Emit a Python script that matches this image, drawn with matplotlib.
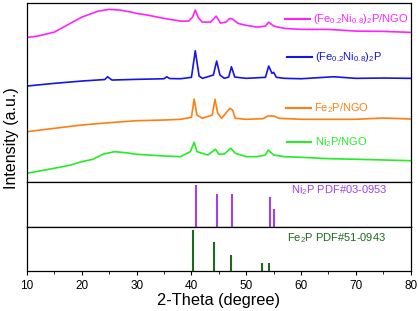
import matplotlib.pyplot as plt
from matplotlib.ticker import MultipleLocator

plt.rcParams['font.family'] = ['Liberation Sans', 'DejaVu Sans']
plt.rcParams['mathtext.fontset'] = 'custom'
plt.rcParams['mathtext.rm'] = 'Liberation Sans'
plt.rcParams['mathtext.it'] = 'Liberation Sans'

# measured patterns (2-theta, stacked intensity)
mag_x = [10, 12, 15, 17, 20, 22, 23, 25, 27, 29, 30, 32, 35, 38, 39.5, 40.2, 40.7, 41.3, 42,
         43.5, 44.5, 45.3, 46.3, 47.0, 47.5, 48.5, 50, 52, 53.5, 54.1, 55, 57, 60, 65, 70, 75, 80]
mag_y = [144.7, 146, 150, 156, 165, 169, 171, 172.7, 172, 170, 168.7, 167, 163.7, 161, 161, 165, 172, 164, 160,
         160, 166, 159, 160, 163.7, 163, 158.7, 156.7, 155, 156, 160, 156, 153.7, 152.7, 152.7, 151, 150.7, 149.7]

blue_x = [10, 15, 20, 24.2, 24.7, 25.5, 30, 35, 35.5, 36, 38, 40.0, 40.7, 41.4, 42, 44.0, 44.6, 45.2, 46,
          46.8, 47.3, 47.9, 50, 53.5, 54.1, 54.7, 55, 55.5, 57, 60, 66, 70, 75, 80]
blue_y = [96, 98.7, 101, 102.5, 105.3, 102, 102.7, 103.3, 105.3, 103.5, 103.3, 104.7, 131.3, 106, 103.7, 107, 121, 107, 103.7,
          105, 115.3, 105, 103.7, 104.7, 116, 108.7, 109.7, 104.7, 103.7, 103.3, 105.3, 103.7, 104, 103.7]

org_x = [10, 15, 20, 25, 30, 35, 38, 40, 40.5, 41, 42, 43.8, 44.3, 44.8, 45.5, 46.5, 47.0, 47.5, 48,
         50, 53, 54, 55, 56, 60, 70, 75, 80]
org_y = [50.3, 53.7, 57, 59.3, 61.3, 62, 62.7, 64.7, 83, 67, 63.7, 67, 82.7, 68.7, 63.7, 70.3, 73.7, 72, 63.7,
         62.7, 63.3, 66, 66, 63.7, 62.7, 62.7, 64, 63]

grn_x = [10, 15, 18, 20, 22, 24, 26, 28, 30, 35, 38, 39.8, 40.5, 41, 43, 44.4, 45, 46, 47.2, 48,
         50, 52, 53.5, 54, 55, 57, 60, 65, 70, 75, 80]
grn_y = [8.7, 13.7, 17, 20.3, 22.7, 28, 30.3, 29.3, 27.7, 26, 25.3, 30.3, 39.7, 30.3, 27, 32.7, 27.7, 28, 33.7, 28.7,
         25.3, 25.3, 27, 32, 27, 25.3, 24.7, 23.3, 22.7, 22, 21.3]

# standard cards
ni2p_pos = [40.8, 44.6, 47.4, 54.3, 55.0]
ni2p_int = [100, 80, 80, 71, 42]
fe2p_pos = [40.3, 44.2, 47.3, 52.9, 54.2]
fe2p_int = [100, 71, 39, 19, 20]

c_mag = '#FF22FF'
c_blue = '#1515E8'
c_org = '#FF7F0E'
c_grn = '#22EE22'
c_pur = '#A040F0'
c_dgrn = '#1A6B1A'

fig = plt.figure(figsize=(4.18, 3.11), dpi=100)
gs = fig.add_gridspec(3, 1, height_ratios=[179, 45, 44], hspace=0,
                      left=0.0646, right=0.9825, top=0.990, bottom=0.129)
ax1 = fig.add_subplot(gs[0])
ax2 = fig.add_subplot(gs[1], sharex=ax1)
ax3 = fig.add_subplot(gs[2], sharex=ax1)

series = [(mag_x, mag_y, c_mag, r'(Fe$_{0.2}$Ni$_{0.8}$)$_2$P/NGO', 163, 57.1),
          (blue_x, blue_y, c_blue, r'(Fe$_{0.2}$Ni$_{0.8}$)$_2$P', 125.3, 57.5),
          (org_x, org_y, c_org, r'Fe$_2$P/NGO', 73.7, 57.3),
          (grn_x, grn_y, c_grn, r'Ni$_2$P/NGO', 40.3, 57.4)]
for x, y, c, lab, ly, lx in series:
    ax1.plot(x, y, color=c, lw=1.2)
    ax1.plot([lx, lx + 4.5], [ly, ly], color=c, lw=1.5)
    ax1.text(lx + 5.1, ly, lab, color=c, fontsize=8, va='center', ha='left')
ax1.set_ylim(0, 179)

ax2.vlines(ni2p_pos, 0, ni2p_int, color=c_pur, lw=1.5)
ax2.set_ylim(0, 108)
ax2.text(58.1, 0.82, r'Ni$_2$P PDF#03-0953', color=c_pur, fontsize=8,
         va='center', transform=ax2.get_xaxis_transform())

ax3.vlines(fe2p_pos, 0, fe2p_int, color=c_dgrn, lw=1.5)
ax3.set_ylim(0, 108)
ax3.text(57.5, 0.75, r'Fe$_2$P PDF#51-0943', color=c_dgrn, fontsize=8,
         va='center', transform=ax3.get_xaxis_transform())

for ax in (ax1, ax2, ax3):
    ax.set_yticks([])
    ax.tick_params(axis='x', which='both', bottom=False, labelbottom=False)
    for s in ax.spines.values():
        s.set_linewidth(0.9)

ax3.set_xlim(10, 80)
ax3.xaxis.set_major_locator(MultipleLocator(10))
ax3.xaxis.set_minor_locator(MultipleLocator(5))
ax3.tick_params(axis='x', which='both', bottom=True, labelbottom=True, direction='out', labelsize=8.5)
ax3.tick_params(axis='x', which='major', length=3)
ax3.tick_params(axis='x', which='minor', length=2)
ax3.set_xlabel('2-Theta (degree)', fontsize=11.8, labelpad=1)

fig.text(0.028, 0.556, 'Intensity (a.u.)', rotation=90, fontsize=11.5, va='center', ha='center')

plt.savefig('out.png', dpi=100)
